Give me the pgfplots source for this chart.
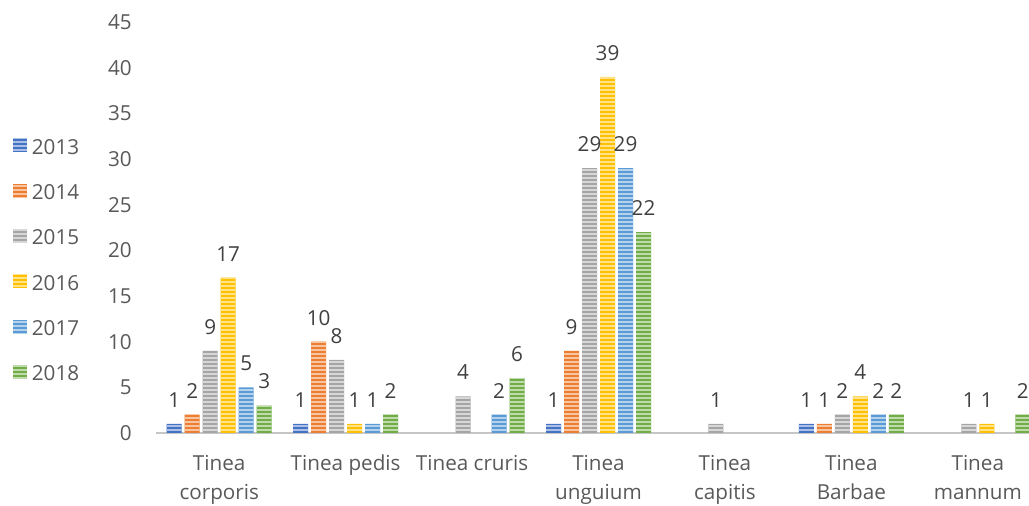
\documentclass[border=0pt]{standalone}
\usepackage{fontspec}
\setmainfont{Open Sans}
\usepackage{pgfplots}
\pgfplotsset{compat=1.18}
\usetikzlibrary{patterns.meta}

\definecolor{cA}{HTML}{4472C4}
\definecolor{cB}{HTML}{ED7D31}
\definecolor{cC}{HTML}{A5A5A5}
\definecolor{cD}{HTML}{FFC000}
\definecolor{cE}{HTML}{5B9BD5}
\definecolor{cF}{HTML}{70AD47}
\definecolor{txt}{HTML}{595959}
\definecolor{lbl}{HTML}{404040}
\definecolor{baseline}{HTML}{C6C6C6}

% striped bar fill: solid colour with lighter horizontal lines on top
\tikzset{striped/.style={fill=#1, draw=none,
  postaction={pattern={Lines[angle=0,distance=3pt,line width=1.3pt]},
              pattern color=#1!45!white}}}

\begin{document}
\begin{tikzpicture}
\useasboundingbox (0,0) rectangle (771.75pt,379.5pt);
\clip (0,0) rectangle (771.75pt,379.5pt);
\begin{axis}[
  at={(117pt,54.75pt)}, anchor=south west,
  scale only axis, width=663.75pt, height=308.25pt,
  font=\fontsize{15.5pt}{21.75pt}\selectfont,
  /pgf/number format/assume math mode=true,
  xmin=-0.5, xmax=6.5, ymin=0, ymax=45,
  ybar=2.25pt, bar width=11.25pt,
  axis x line=bottom, axis y line=left,
  x axis line style={draw=baseline, line width=1.6pt, -},
  y axis line style={draw=none},
  xtick={0,...,6}, major tick length=0pt,
  xticklabels={{Tinea\\corporis},{Tinea pedis},{Tinea cruris},{Tinea\\unguium},{Tinea\\capitis},{Tinea\\Barbae},{Tinea\\mannum}},
  xticklabel style={align=center, anchor=north, inner sep=0pt, yshift=-16.5pt, text=txt},
  ytick={0,5,...,45},
  yticklabel style={anchor=east, inner sep=0pt, xshift=-18pt, text=txt},
  nodes near coords,
  every node near coord/.append style={anchor=center, yshift=18pt, text=lbl, inner sep=0pt},
  legend style={at={(-0.1616,0.7177)}, anchor=north west, draw=none, fill=none,
    inner sep=0pt, row sep=22pt, column sep=3.5pt,
    nodes={inner sep=0pt, text height=11pt, text depth=0pt, text=txt},
    font=\fontsize{15.5pt}{21.75pt}\selectfont},
  legend cell align=left,
  legend image code/.code={\path[#1] (0pt,-4pt) rectangle (10.5pt,6.5pt);},
]
\addplot[striped=cA] coordinates {(0,1) (1,1) (3,1) (5,1)};
\addplot[striped=cB] coordinates {(0,2) (1,10) (3,9) (5,1)};
\addplot[striped=cC] coordinates {(0,9) (1,8) (2,4) (3,29) (4,1) (5,2) (6,1)};
\addplot[striped=cD] coordinates {(0,17) (1,1) (3,39) (5,4) (6,1)};
\addplot[striped=cE] coordinates {(0,5) (1,1) (2,2) (3,29) (5,2)};
\addplot[striped=cF] coordinates {(0,3) (1,2) (2,6) (3,22) (5,2) (6,2)};
\legend{2013,2014,2015,2016,2017,2018}
\end{axis}
\end{tikzpicture}
\end{document}
